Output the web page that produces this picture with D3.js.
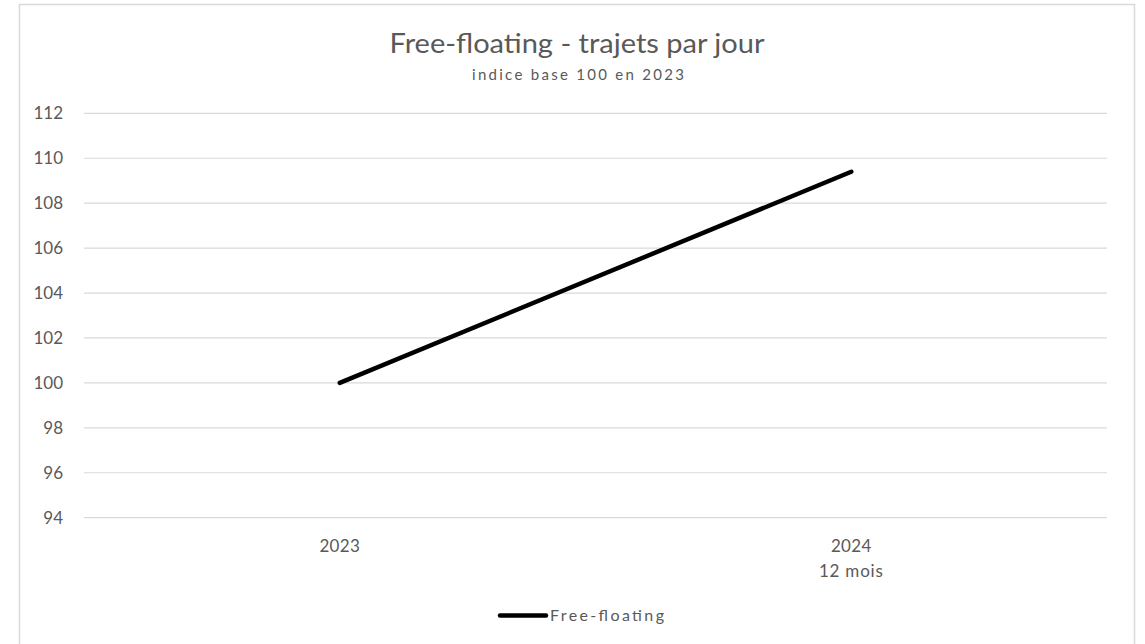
<!DOCTYPE html>
<html><head><meta charset="utf-8">
<script src="https://cdn.jsdelivr.net/npm/d3@7"></script>
<style>
body{margin:0;background:#fff;}
text{font-family:Lato,"Open Sans",sans-serif;fill:#595959;}
</style></head>
<body><svg id="c" width="1145" height="644"></svg>
<script>
const categories = ["2023", "2024\n12 mois"];
const seriesName = "Free-floating";
const values = [100, 109.4];
const yTicks = [94, 96, 98, 100, 102, 104, 106, 108, 110, 112];
const title = "Free-floating - trajets par jour";
const subtitle = "indice base 100 en 2023";

(function(){
const svg = d3.select("#c");
svg.append("rect").attr("x",19.5).attr("y",4.5).attr("width",1115).attr("height",650)
  .attr("fill","#fff").attr("stroke","#d9d9d9").attr("stroke-width",1.5);

const pLeft = 84, pRight = 1107, pTop = 113.3, pBottom = 517.7;
const x = d3.scaleBand().domain(categories).range([pLeft, pRight]);
const y = d3.scaleLinear().domain([94, 112]).range([pBottom, pTop]);

svg.append("text").attr("x",577).attr("y",53).attr("text-anchor","middle")
  .style("font-size","26px").attr("textLength",375).attr("lengthAdjust","spacingAndGlyphs").text(title);
svg.append("text").attr("x",578).attr("y",80).attr("text-anchor","middle")
  .style("font-size","15px").attr("textLength",212).attr("lengthAdjust","spacing").text(subtitle);

// gridlines
svg.append("g").selectAll("line").data(yTicks).join("line")
  .attr("x1",pLeft).attr("x2",pRight).attr("y1",d=>y(d)).attr("y2",d=>y(d))
  .attr("stroke","#d9d9d9").attr("stroke-width",1.2);

// y axis
const yAxis = svg.append("g").attr("transform",`translate(${pLeft},0)`)
  .call(d3.axisLeft(y).tickValues(yTicks).tickSize(0).tickPadding(21));
yAxis.select(".domain").remove();
yAxis.selectAll("text").style("font-size","17px").attr("fill","#595959")
  .style("font-family","Lato,'Open Sans',sans-serif");

// x axis
const xAxis = svg.append("g").attr("transform",`translate(0,${pBottom})`)
  .call(d3.axisBottom(x).tickSize(0).tickPadding(0).tickFormat(""));
xAxis.select(".domain").remove();
xAxis.selectAll(".tick").each(function(d){
  const lines = d.split("\n");
  const t = d3.select(this).append("text").attr("text-anchor","middle")
    .style("font-size","17px").attr("fill","#595959");
  lines.forEach((l,i)=>t.append("tspan").attr("x",0).attr("y",i*25+34.5)
    .style("letter-spacing", i ? "0.8px" : "0.3px").text(l));
});

// line
const line = d3.line().x((d,i)=>x(categories[i])+x.bandwidth()/2).y(d=>y(d));
svg.append("path").datum(values).attr("d",line).attr("fill","none")
  .attr("stroke","#000").attr("stroke-width",4.5).attr("stroke-linecap","round");

// legend
svg.append("line").attr("x1",500).attr("x2",546).attr("y1",615.5).attr("y2",615.5)
  .attr("stroke","#000").attr("stroke-width",4.5).attr("stroke-linecap","round");
svg.append("text").attr("x",550).attr("y",621).style("font-size","16px")
  .attr("textLength",114).attr("lengthAdjust","spacing").text(seriesName);
})();
</script></body></html>
